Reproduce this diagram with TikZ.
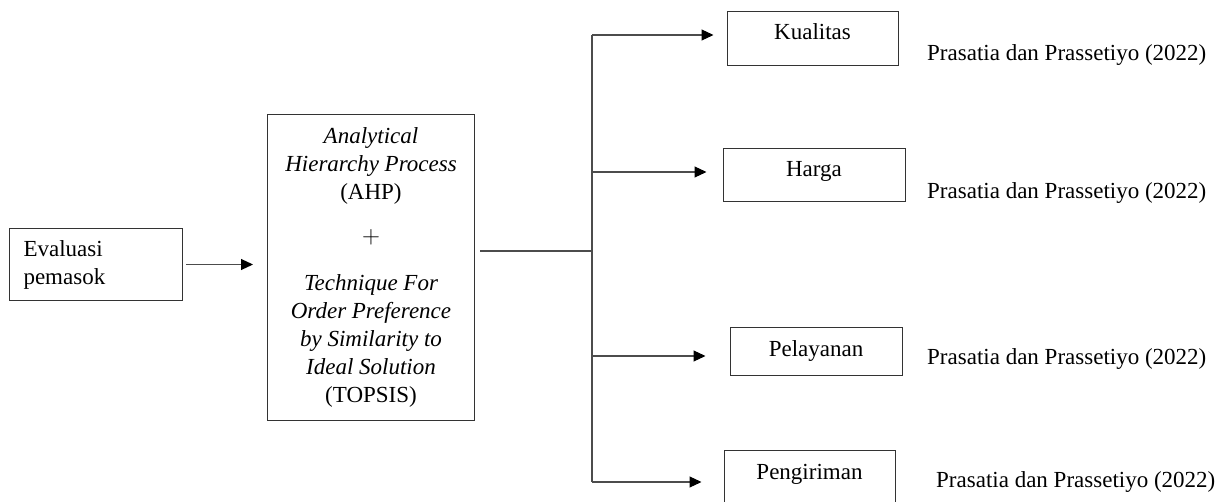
\documentclass[tikz,border=0pt]{standalone}
\usepackage{fontspec}
\setmainfont{Liberation Serif}
\usetikzlibrary{arrows.meta}
\tikzset{
  ln/.style={draw=black!70, line width=1.1pt},
  arr/.style={ln, -{Triangle[length=12pt,width=11pt,color=black]}},
  box/.style={draw=black!80, line width=1pt, inner sep=0pt, anchor=base},
  cite/.style={anchor=base west, inner sep=0pt},
}
\begin{document}
\begin{tikzpicture}[x=1pt,y=-1pt,font=\fontsize{23}{28}\selectfont]
\useasboundingbox (0,0) rectangle (1226,502);
\clip (0,0) rectangle (1226,502);
% left box
\node[draw=black!80, line width=1pt, anchor=north west, minimum width=173pt, minimum height=72pt,
      text width=145pt, inner xsep=14pt, inner ysep=0pt, align=left] (ev) at (9,228) {Evaluasi\\pemasok};
% main box
\node[draw=black!80, line width=1pt, anchor=north west, minimum width=207pt, minimum height=306pt,
      inner sep=0pt, align=center] (main) at (267,114)
  {\itshape Analytical\\\itshape Hierarchy Process\\(AHP)\\[16pt]$+$\\[19pt]\itshape Technique For\\\itshape Order Preference\\\itshape by Similarity to\\\itshape Ideal Solution\\(TOPSIS)};
% right boxes
\node[box, minimum width=171pt, text height=28pt, text depth=26pt] (ku) at (812.5,40) {Kualitas};
\node[box, minimum width=182pt, text height=28pt, text depth=25pt] (ha) at (814,177) {Harga};
\node[box, minimum width=172pt, text height=29pt, text depth=19pt] (pe) at (816,357) {Pelayanan};
\node[box, minimum width=171pt, text height=29pt, text depth=40pt] (pg) at (809.5,479) {Pengiriman};
% citations
\node[cite] (c1) at (927,61) {Prasatia dan Prassetiyo (2022)};
\node[cite] (c2) at (927,199) {Prasatia dan Prassetiyo (2022)};
\node[cite] (c3) at (927,365) {Prasatia dan Prassetiyo (2022)};
\node[cite] (c4) at (936,487) {Prasatia dan Prassetiyo (2022)};
% connectors
\draw[arr] ([xshift=3pt]ev.east) -- ([xshift=-14pt]main.west |- ev.east);
\coordinate (j) at (592,251);
\coordinate (t) at (592,35);
\coordinate (h) at (592,172);
\coordinate (p) at (592,356);
\coordinate (b) at (592,482);
\draw[ln] ([xshift=5pt]main.east |- j) -- (j);
\draw[ln] (t) -- (b);
\draw[arr] (t) -- ([xshift=-13pt]ku.west |- t);
\draw[arr] (h) -- ([xshift=-16pt]ha.west |- h);
\draw[arr] (p) -- ([xshift=-24pt]pe.west |- p);
\draw[arr] (b) -- ([xshift=-22pt]pg.west |- b);
\end{tikzpicture}
\end{document}
